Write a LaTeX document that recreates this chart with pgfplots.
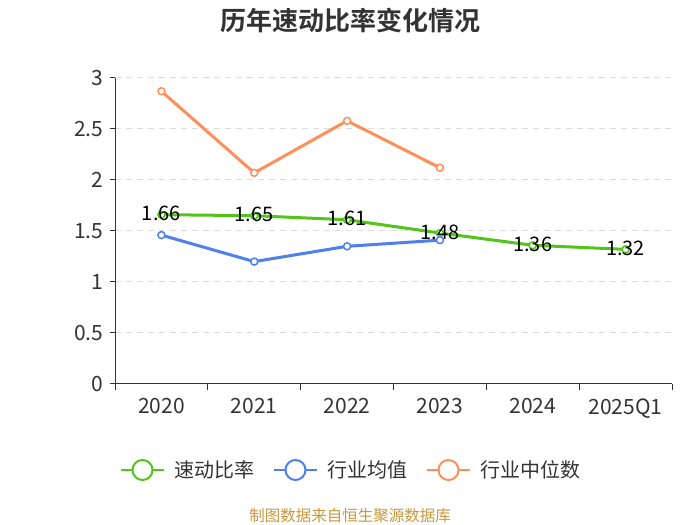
\documentclass[border=0pt]{standalone}
\usepackage{pgfplots}
\pgfplotsset{compat=1.18}
\usepackage{fontspec}
\setmainfont{Noto Sans CJK SC}[BoldFont={* Bold}]
\definecolor{cgreen}{HTML}{52C41A}
\definecolor{cblue}{HTML}{4E80EE}
\definecolor{corange}{HTML}{FF8F5A}
\definecolor{caxis}{HTML}{333333}
\definecolor{ctext}{HTML}{333333}
\definecolor{cgrid}{HTML}{DDDDDD}
\definecolor{csrc}{HTML}{C9983C}
\begin{document}
\begin{tikzpicture}
\fill[white] (0,0) rectangle (700bp,525bp);
\useasboundingbox (0,0) rectangle (700bp,525bp);
\node[font=\fontsize{26bp}{30bp}\selectfont\bfseries, text=ctext] at (350bp,504bp) {历年速动比率变化情况};
\node[font=\fontsize{15.5bp}{18bp}\selectfont, text=csrc] at (350bp,9bp) {制图数据来自恒生聚源数据库};
\begin{axis}[
  at={(115bp,141bp)}, anchor=south west,
  scale only axis, width=557bp, height=306bp,
  xmin=-0.5, xmax=5.5, ymin=0, ymax=3,
  axis x line*=bottom, axis y line*=left,
  axis line style={caxis, line width=1bp},
  xtick={0,1,2,3,4,5},
  xticklabels={2020,2021,2022,2023,2024,2025Q1},
  minor xtick={-0.5,0.5,1.5,2.5,3.5,4.5,5.5},
  ytick={0,0.5,1,1.5,2,2.5,3},
  yticklabels={0,0.5,1,1.5,2,2.5,3},
  major x tick style={draw=none},
  minor x tick style={caxis, line width=1bp},
  major y tick style={caxis, line width=1bp},
  minor tick length=6bp, major tick length=5bp,
  tick align=outside,
  ymajorgrids,
  major grid style={cgrid, dash pattern=on 6bp off 5bp, line width=1bp},
  tick label style={font=\fontsize{21bp}{24bp}\selectfont, text=ctext},
  xticklabel style={yshift=-6bp},
  yticklabel style={xshift=-3bp},
  /pgf/number format/assume math mode=true,
  clip=false,
  legend columns=3,
  legend style={at={(0.4219,-0.281)}, anchor=center, draw=none, fill=none,
    font=\fontsize{20bp}{24bp}\selectfont, text=ctext,
    nodes={inner xsep=0bp},
    /tikz/every even column/.append style={column sep=19bp},
    /tikz/every odd column/.append style={column sep=0bp}},
  legend cell align=left,
  legend image code/.code={
    \path[draw=none, fill=none] (0bp,-10bp) rectangle (53bp,10bp);
    \draw[#1, line width=2bp] (0bp,0bp) -- (43bp,0bp);
    \draw[#1, line width=2bp, fill=white] (21.5bp,0bp) circle (10bp);
  },
]
\addplot[cgreen, line width=3bp, mark=*, mark size=3.5bp, mark options={fill=white, line width=1.5bp},
  nodes near coords, point meta=explicit symbolic,
  every node near coord/.append style={anchor=center, yshift=1bp, text=black, font=\fontsize{20bp}{24bp}\selectfont}]
  coordinates {(0,1.66)[1.66] (1,1.65)[1.65] (2,1.61)[1.61] (3,1.48)[1.48] (4,1.36)[1.36] (5,1.32)[1.32]};
\addlegendentry{速动比率}
\addplot[cblue, line width=3bp, mark=*, mark size=3.5bp, mark options={fill=white, line width=1.5bp}]
  coordinates {(0,1.46) (1,1.20) (2,1.35) (3,1.41)};
\addlegendentry{行业均值}
\addplot[corange, line width=3bp, mark=*, mark size=3.5bp, mark options={fill=white, line width=1.5bp}]
  coordinates {(0,2.87) (1,2.07) (2,2.58) (3,2.12)};
\addlegendentry{行业中位数}
\end{axis}
\end{tikzpicture}
\end{document}
